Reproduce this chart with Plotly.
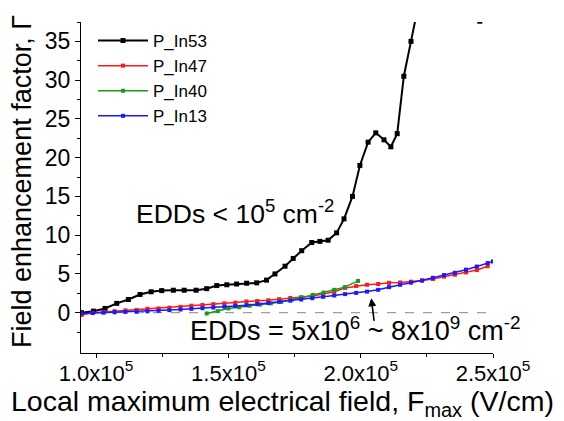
import plotly.graph_objects as go

# x in units of 1e5 V/cm
x_in53 = [0.945, 0.99, 1.034, 1.078, 1.122, 1.166, 1.208, 1.248, 1.292, 1.333, 1.378, 1.418, 1.456,
          1.494, 1.531, 1.569, 1.607, 1.644, 1.676, 1.714, 1.745, 1.777, 1.815, 1.846, 1.877, 1.909,
          1.937, 1.969, 1.997, 2.028, 2.057, 2.088, 2.114, 2.138, 2.163, 2.19, 2.25, 2.45]
y_in53 = [0.0, 0.2, 0.55, 1.2, 1.7, 2.35, 2.7, 2.85, 2.9, 2.9, 2.9, 3.1, 3.5,
          3.6, 3.7, 3.8, 3.85, 4.2, 5.0, 6.0, 7.0, 8.0, 9.05, 9.2, 9.35, 10.3,
          12.1, 15.0, 19.0, 22.0, 23.2, 22.3, 21.4, 23.1, 30.5, 35.0, 45.0, 37.6]

x_in47 = [0.945, 0.987, 1.028, 1.07, 1.111, 1.153, 1.194, 1.236, 1.277, 1.319, 1.36, 1.402, 1.443,
          1.485, 1.526, 1.568, 1.609, 1.651, 1.692, 1.734, 1.775, 1.817, 1.858, 1.9, 1.941, 1.983,
          2.024, 2.066, 2.107, 2.149, 2.19, 2.232, 2.273, 2.315, 2.356, 2.398, 2.439, 2.48]
y_in47 = [-0.3, 0.0, 0.1, 0.2, 0.3, 0.35, 0.5, 0.55, 0.65, 0.75, 0.9, 1.0, 1.1,
          1.2, 1.3, 1.45, 1.5, 1.6, 1.75, 1.9, 2.0, 2.15, 2.4, 2.7, 3.2, 3.45,
          3.6, 3.7, 3.85, 3.9, 4.0, 4.15, 4.35, 4.65, 4.9, 5.2, 5.5, 6.0]

x_in40 = [1.418, 1.46, 1.5, 1.54, 1.58, 1.62, 1.66, 1.70, 1.74, 1.78, 1.82, 1.86, 1.90, 1.94, 1.99]
y_in40 = [-0.1, 0.2, 0.55, 0.7, 0.9, 1.05, 1.2, 1.4, 1.7, 1.95, 2.3, 2.6, 2.95, 3.3, 4.1]

x_in13 = [0.945, 0.987, 1.028, 1.07, 1.111, 1.153, 1.194, 1.236, 1.277, 1.319, 1.36, 1.402, 1.443,
          1.485, 1.526, 1.568, 1.609, 1.651, 1.692, 1.734, 1.775, 1.817, 1.858, 1.9, 1.941, 1.983,
          2.024, 2.066, 2.107, 2.149, 2.19, 2.232, 2.273, 2.315, 2.356, 2.398, 2.439, 2.48, 2.5]
y_in13 = [-0.1, -0.05, 0.0, 0.05, 0.1, 0.12, 0.18, 0.25, 0.33, 0.41, 0.5, 0.58, 0.67,
          0.77, 0.87, 0.97, 1.1, 1.25, 1.4, 1.55, 1.7, 1.87, 2.05, 2.22, 2.4, 2.55,
          2.72, 2.95, 3.3, 3.6, 3.87, 4.15, 4.5, 4.85, 5.15, 5.55, 5.95, 6.4, 6.6]

x_tickvals = [1.0, 1.5, 2.0, 2.5]
x_ticktext = ["1.0x10<sup>5</sup>", "1.5x10<sup>5</sup>", "2.0x10<sup>5</sup>", "2.5x10<sup>5</sup>"]
y_tickvals = [0, 5, 10, 15, 20, 25, 30, 35]

FONT = "Arial, Liberation Sans, sans-serif"
L, R, T, B = 81, 71, 22, 68
PW, PH = 564 - L - R, 421 - T - B


def px_x(p):
    return (p - L) / PW


def px_y(p):
    return (421 - B - p) / PH


fig = go.Figure()
series = [
    ("P_In53", x_in53, y_in53, "#000000", 2, 5),
    ("P_In47", x_in47, y_in47, "#ff1a1a", 1.5, 4),
    ("P_In40", x_in40, y_in40, "#1a9a1a", 1.5, 4),
    ("P_In13", x_in13, y_in13, "#1a1aff", 1.5, 4),
]
for name, xs, ys, col, lw, ms in series:
    fig.add_trace(go.Scatter(x=xs, y=ys, name=name, mode="lines+markers",
                             line=dict(color=col, width=lw),
                             marker=dict(symbol="square", size=ms, color=col)))

fig.add_shape(type="line", xref="x", yref="y", x0=0.943, x1=2.5, y0=0, y1=0,
              line=dict(color="#888888", width=1, dash="dash"), layer="below")

fig.add_annotation(text="EDDs &lt; 10<sup>5</sup> cm<sup>-2</sup>", xref="paper", yref="paper",
                   x=px_x(134), y=px_y(212), xanchor="left", yanchor="middle", showarrow=False,
                   font=dict(size=26.5, color="black", family=FONT))
fig.add_annotation(text="EDDs = 5x10<sup>6</sup> ~ 8x10<sup>9</sup> cm<sup>-2</sup>", xref="paper", yref="paper",
                   x=px_x(188), y=px_y(329), xanchor="left", yanchor="middle", showarrow=False,
                   font=dict(size=27, color="black", family=FONT))
fig.add_annotation(text="", x=2.04, y=1.85, xref="x", yref="y", ax=3, ay=24,
                   showarrow=True, arrowhead=2, arrowsize=1, arrowwidth=1.6, arrowcolor="black")

fig.add_annotation(text="Field enhancement factor, Γ", xref="paper", yref="paper", textangle=-90,
                   x=px_x(22), y=px_y(182), xanchor="center", yanchor="middle",
                   showarrow=False, font=dict(size=27, color="black", family=FONT))
fig.add_annotation(text="Local maximum electrical field, F<sub>max</sub> (V/cm)", xref="paper", yref="paper",
                   x=px_x(282), y=px_y(403), xanchor="center", yanchor="middle",
                   showarrow=False, font=dict(size=28.5, color="black", family=FONT))

fig.update_layout(
    width=564, height=421,
    margin=dict(l=L, r=R, t=T, b=B),
    paper_bgcolor="white", plot_bgcolor="white",
    font=dict(family=FONT, color="black"),
    showlegend=True,
    legend=dict(x=px_x(93), y=px_y(23), xanchor="left", yanchor="top", bgcolor="rgba(0,0,0,0)",
                font=dict(size=17, color="black", family=FONT), tracegroupgap=0, itemwidth=50),
    xaxis=dict(range=[0.943, 2.5], tickmode="array", tickvals=x_tickvals, ticktext=x_ticktext,
               automargin=False, ticklabelstandoff=-4,
               showline=True, linecolor="black", linewidth=1.3, ticks="outside", ticklen=4,
               tickwidth=1.3, tickcolor="black", showgrid=False, zeroline=False, mirror=False,
               tickfont=dict(size=22, family=FONT),
               minor=dict(tickmode="array", tickvals=[1.25, 1.75, 2.25], ticks="outside", ticklen=3,
                          tickwidth=1.3, tickcolor="black", showgrid=False)),
    yaxis=dict(range=[-5.2, 37.5], tickmode="array", tickvals=y_tickvals,
               automargin=False,
               showline=True, linecolor="black", linewidth=1.3, ticks="outside", ticklen=5,
               tickwidth=1.3, tickcolor="black", showgrid=False, zeroline=False, mirror=False,
               tickfont=dict(size=23, family=FONT),
               minor=dict(tickmode="array", tickvals=[-2.5, 2.5, 7.5, 12.5, 17.5, 22.5, 27.5, 32.5, 37.5],
                          ticks="outside", ticklen=3, tickwidth=1.3, tickcolor="black", showgrid=False)),
)

fig.write_html("out.html", config={"displayModeBar": False},
               post_script="document.body.style.margin='0';document.body.style.padding='0';"
                           "document.body.style.overflow='hidden';")
